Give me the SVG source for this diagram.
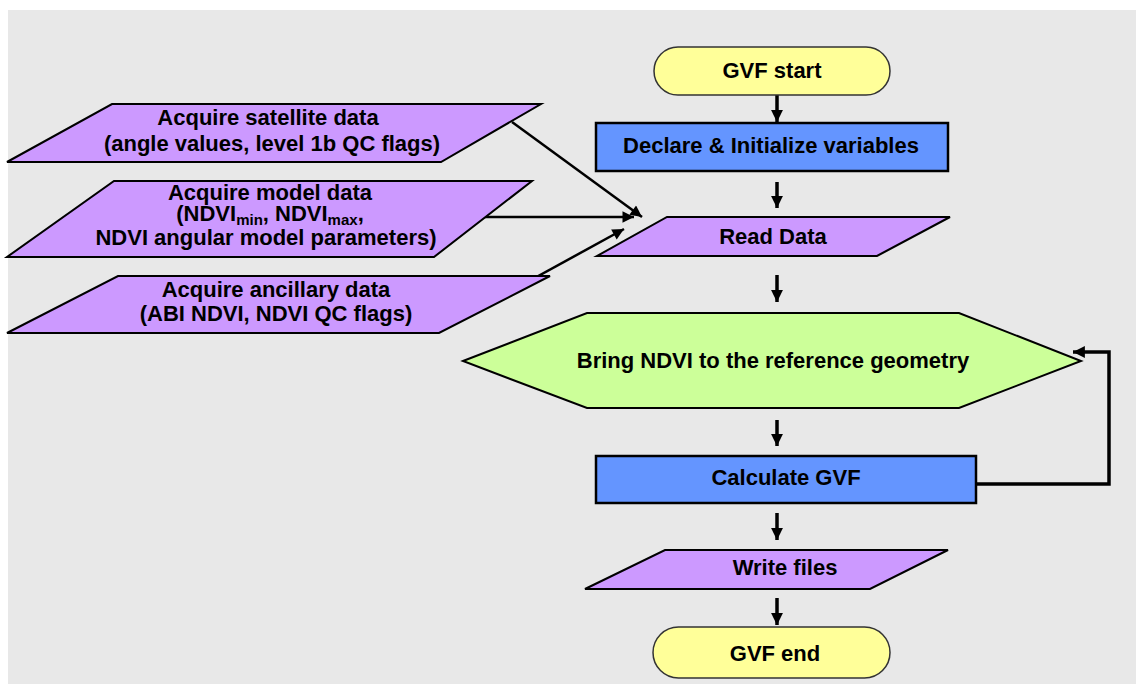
<svg xmlns="http://www.w3.org/2000/svg" width="1136" height="684" viewBox="0 0 1136 684">
  <style>
    .lbl { font-family: "Liberation Sans", Arial, sans-serif; font-weight: bold; font-size: 22px; fill: #000; text-anchor: middle; }
    .sub { font-size: 15px; }
    .io { fill: #cc99ff; stroke: #000; stroke-width: 2; }
    .proc { fill: #6495ff; stroke: #000; stroke-width: 2.5; }
    .term { fill: #ffff99; stroke: #333; stroke-width: 1.5; }
    .prep { fill: #ccff99; stroke: #000; stroke-width: 2; }
    .flow { stroke: #000; stroke-width: 3.5; fill: none; }
    .feed { stroke: #000; stroke-width: 2.5; fill: none; }
  </style>
  <defs>
    <marker id="head" viewBox="0 0 10 10" refX="10" refY="5" markerWidth="3.4" markerHeight="3.4" orient="auto" markerUnits="strokeWidth">
      <path d="M0,0 L10,5 L0,10 Z" fill="#000"/>
    </marker>
    <marker id="headThin" viewBox="0 0 10 10" refX="10" refY="5" markerWidth="5.2" markerHeight="4.6" orient="auto" markerUnits="strokeWidth">
      <path d="M0,0 L10,5 L0,10 Z" fill="#000"/>
    </marker>
  </defs>

  <rect x="8" y="10" width="1128" height="674" fill="#e8e8e8"/>

  <!-- connectors -->
  <g id="connectors">
    <line class="flow" x1="777" y1="95" x2="777" y2="122" marker-end="url(#head)"/>
    <line class="flow" x1="777" y1="182" x2="777" y2="208" marker-end="url(#head)"/>
    <line class="flow" x1="777" y1="275" x2="777" y2="302" marker-end="url(#head)"/>
    <line class="flow" x1="777" y1="420" x2="777" y2="446" marker-end="url(#head)"/>
    <line class="flow" x1="777" y1="513" x2="777" y2="540" marker-end="url(#head)"/>
    <line class="flow" x1="777" y1="598" x2="777" y2="625" marker-end="url(#head)"/>
    <!-- inputs into Read Data -->
    <line class="feed" x1="512" y1="122" x2="642" y2="217" marker-end="url(#headThin)"/>
    <line class="feed" x1="482" y1="217" x2="634" y2="217" marker-end="url(#headThin)"/>
    <line class="feed" x1="491" y1="302" x2="624" y2="229" marker-end="url(#headThin)"/>
    <!-- loop back from Calculate GVF -->
    <polyline class="flow" points="976,484 1109,484 1109,352 1073,352" marker-end="url(#head)"/>
  </g>

  <g id="gvf-start">
    <rect class="term" x="654" y="47" width="236" height="48" rx="24" ry="24"/>
    <text class="lbl" x="772" y="78">GVF start</text>
  </g>

  <g id="declare">
    <rect class="proc" x="596" y="123" width="352" height="48"/>
    <text class="lbl" x="771" y="153">Declare &amp; Initialize variables</text>
  </g>

  <g id="read-data">
    <polygon class="io" points="667,217 950,217 877,256 597,256"/>
    <text class="lbl" x="773" y="244">Read Data</text>
  </g>

  <g id="acquire-satellite">
    <polygon class="io" points="112,104 541,104 441,162 7,162"/>
    <text class="lbl" x="268" y="125">Acquire satellite data</text>
    <text class="lbl" x="272" y="151">(angle values, level 1b QC flags)</text>
  </g>

  <g id="acquire-model">
    <polygon class="io" points="114,181 532,181 434,257 7,257"/>
    <text class="lbl" x="270" y="200">Acquire model data</text>
    <text class="lbl" x="270" y="221">(NDVI<tspan class="sub" dy="4">min</tspan><tspan dy="-4">, NDVI</tspan><tspan class="sub" dy="4">max</tspan><tspan dy="-4">,</tspan></text>
    <text class="lbl" x="266" y="245">NDVI angular model parameters)</text>
  </g>

  <g id="acquire-ancillary">
    <polygon class="io" points="118,276 550,276 439,333 7,333"/>
    <text class="lbl" x="276" y="297">Acquire ancillary data</text>
    <text class="lbl" x="276" y="321">(ABI NDVI, NDVI QC flags)</text>
  </g>

  <g id="bring-ndvi">
    <polygon class="prep" points="463,361 587,313 959,313 1081,361 959,408 587,408"/>
    <text class="lbl" x="773" y="368" font-size="23">Bring NDVI to the reference geometry</text>
  </g>

  <g id="calculate-gvf">
    <rect class="proc" x="596" y="456" width="380" height="47"/>
    <text class="lbl" x="786" y="485">Calculate GVF</text>
  </g>

  <g id="write-files">
    <polygon class="io" points="665,550 948,550 870,589 585,589"/>
    <text class="lbl" x="785" y="575">Write files</text>
  </g>

  <g id="gvf-end">
    <rect class="term" x="653" y="627" width="237" height="51" rx="25.5" ry="25.5"/>
    <text class="lbl" x="775" y="661">GVF end</text>
  </g>
</svg>
